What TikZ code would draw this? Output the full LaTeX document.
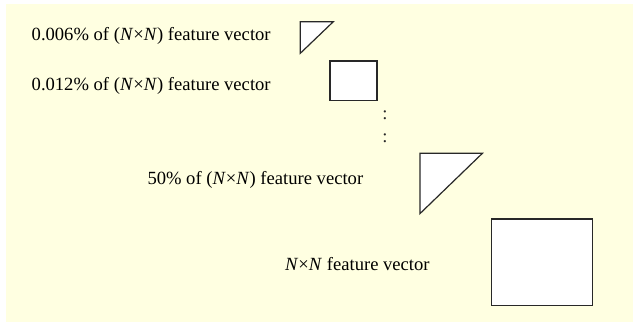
\documentclass[tikz,border=0pt]{standalone}
\usepackage{fontspec}
\setmainfont{Liberation Serif}
\definecolor{bgyellow}{RGB}{255,255,225}
\definecolor{edgegray}{RGB}{40,40,40}
\begin{document}
\begin{tikzpicture}[x=1pt,y=-1pt,
  lbl/.style={anchor=base west,inner sep=0pt,font=\fontsize{18.6}{22}\selectfont},
  dotlbl/.style={anchor=base,inner sep=0pt,font=\fontsize{18.6}{22}\selectfont,text=black!85},
  shp/.style={draw=edgegray,fill=white,line width=1.2pt,line join=miter},
  sq/.style={shp,inner sep=0pt,outer sep=0pt}]
\useasboundingbox (0,0) rectangle (633,322);
\fill[white] (0,0) rectangle (633,322);
\fill[bgyellow] (6,4) rectangle (633,322);
% labels
\node[lbl] (t1) at (31.5,40) {0.006\% of (\textit{N}×\textit{N}) feature vector};
\node[lbl] (t2) at (31.5,90) {0.012\% of (\textit{N}×\textit{N}) feature vector};
\node[lbl] (t3) at (147.3,184) {50\% of (\textit{N}×\textit{N}) feature vector};
\node[lbl] (t4) at (285,270) {\textit{N}×\textit{N} feature vector};
% small triangle
\coordinate (a1) at (300.3,21.7);
\coordinate (a2) at (333.3,21.7);
\coordinate (a3) at (300.3,53.3);
\draw[shp] (a1) -- (a2) -- (a3) -- cycle;
% small square
\node[sq,minimum width=47pt,minimum height=39.7pt] (s1) at (353.5,80.8) {};
% dots
\node[dotlbl] (d1) at (385,119.5) {:};
\node[dotlbl] (d2) at (385,142) {:};
% big triangle
\coordinate (b1) at (420,153.3);
\coordinate (b2) at (482.4,153.3);
\coordinate (b3) at (420,213.6);
\draw[shp] (b1) -- (b2) -- (b3) -- cycle;
% big square
\node[sq,minimum width=100.6pt,minimum height=86.7pt] (s2) at (542,262.3) {};
\end{tikzpicture}
\end{document}
